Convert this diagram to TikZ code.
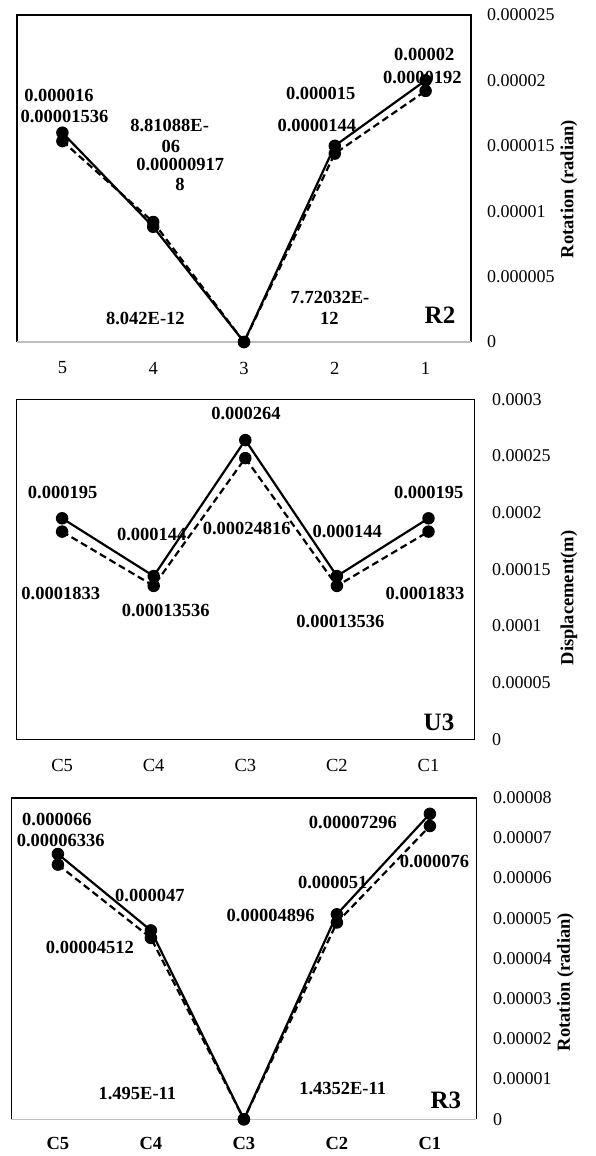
\documentclass[tikz,border=0pt]{standalone}
\usepackage{fontspec}
\setmainfont{Liberation Serif}
\begin{document}
\begin{tikzpicture}[x=1pt,y=-1pt,
  lab/.style={inner sep=0pt,font=\fontsize{18.5}{21}\selectfont\bfseries},
  tick/.style={inner sep=0pt,anchor=west,font=\fontsize{18}{21}\selectfont},
  cat/.style={inner sep=0pt,font=\fontsize{18.5}{21}\selectfont},
  catb/.style={inner sep=0pt,font=\fontsize{18.5}{21}\selectfont\bfseries},
  ttl/.style={inner sep=0pt,rotate=90,font=\fontsize{18.5}{21}\selectfont\bfseries},
  big/.style={inner sep=0pt,font=\fontsize{25}{29}\selectfont\bfseries},
  frame/.style={line width=1.6pt,black},
  gaxis/.style={line width=1.6pt,black!25},
  sline/.style={line width=2.2pt,line join=round},
  dline/.style={line width=2.2pt,dash pattern=on 7pt off 4pt},
  dot/.style={circle,fill=black,inner sep=0pt,minimum size=12.5pt}]
\useasboundingbox (0,0) rectangle (595,1156);
\fill[white] (0,0) rectangle (595,1156);

% ================= Chart 1 : R2 =================
\coordinate (f1a) at (17,342);
\coordinate (f1b) at (17,15);
\coordinate (f1c) at (471,15);
\coordinate (f1d) at (471,342);
\draw[frame] (f1a) -- (f1b) -- (f1c) -- (f1d);
\draw[gaxis] (f1a) -- (f1d);
\node[tick] (t1a) at (487,15) {0.000025};
\node[tick] (t1b) at (487,80.4) {0.00002};
\node[tick] (t1c) at (487,145.8) {0.000015};
\node[tick] (t1d) at (487,211.2) {0.00001};
\node[tick] (t1e) at (487,276.6) {0.000005};
\node[tick] (t1f) at (487,342) {0};
\node[ttl] (y1) at (569,189) {Rotation (radian)};
\node[cat] (c1a) at (62.4,368) {5};
\node[cat] (c1b) at (153.2,368) {4};
\node[cat] (c1c) at (244,368) {3};
\node[cat] (c1d) at (334.8,368) {2};
\node[cat] (c1e) at (425.6,368) {1};
\node[big] (R2) at (440,315) {R2};
\node[lab] (l1a) at (59,95) {0.000016};
\node[lab] (l1b) at (64.5,116) {0.00001536};
\node[lab] (l1c) at (169.6,125) {8.81088E-};
\node[lab] (l1d) at (170.8,146) {06};
\node[lab] (l1e) at (180.3,164) {0.00000917};
\node[lab] (l1f) at (180,184) {8};
\node[lab] (l1g) at (145.4,318) {8.042E-12};
\node[lab] (l1h) at (320.7,93) {0.000015};
\node[lab] (l1i) at (316.9,125) {0.0000144};
\node[lab] (l1j) at (330,297) {7.72032E-};
\node[lab] (l1k) at (329.4,318) {12};
\node[lab] (l1l) at (424.3,54) {0.00002};
\node[lab] (l1m) at (422.4,77) {0.0000192};
\coordinate (s1a) at (62.4,132.7);
\coordinate (s1b) at (153.2,226.8);
\coordinate (s1c) at (244,342);
\coordinate (s1d) at (334.8,145.8);
\coordinate (s1e) at (425.6,80.4);
\coordinate (d1a) at (62.4,141.1);
\coordinate (d1b) at (153.2,222);
\coordinate (d1c) at (244,342);
\coordinate (d1d) at (334.8,153.6);
\coordinate (d1e) at (425.6,90.9);
\draw[dline] (d1a) -- (d1b) -- (d1c) -- (d1d) -- (d1e);
\draw[sline] (s1a) -- (s1b) -- (s1c) -- (s1d) -- (s1e);
\foreach \p in {d1a,d1b,d1c,d1d,d1e,s1a,s1b,s1c,s1d,s1e}
  \node[dot] at (\p) {};

% ================= Chart 2 : U3 =================
\draw[frame] (16.3,399.3) rectangle (474.4,739.3);
\node[tick] (t2a) at (492,399.3) {0.0003};
\node[tick] (t2b) at (492,456) {0.00025};
\node[tick] (t2c) at (492,512.6) {0.0002};
\node[tick] (t2d) at (492,569.3) {0.00015};
\node[tick] (t2e) at (492,626) {0.0001};
\node[tick] (t2f) at (492,682.6) {0.00005};
\node[tick] (t2g) at (492,739.3) {0};
\node[ttl] (y2) at (569,598) {Displacement(m)};
\node[cat] (c2a) at (62.1,765) {C5};
\node[cat] (c2b) at (153.7,765) {C4};
\node[cat] (c2c) at (245.3,765) {C3};
\node[cat] (c2d) at (336.9,765) {C2};
\node[cat] (c2e) at (428.5,765) {C1};
\node[big] (U3) at (439,722) {U3};
\node[lab] (l2a) at (62.6,492) {0.000195};
\node[lab] (l2b) at (60.7,593) {0.0001833};
\node[lab] (l2c) at (151.8,534) {0.000144};
\node[lab] (l2d) at (165.8,610) {0.00013536};
\node[lab] (l2e) at (246,413) {0.000264};
\node[lab] (l2f) at (246.7,528) {0.00024816};
\node[lab] (l2g) at (347.2,531) {0.000144};
\node[lab] (l2h) at (340.4,621) {0.00013536};
\node[lab] (l2i) at (428.8,492) {0.000195};
\node[lab] (l2j) at (425,593) {0.0001833};
\coordinate (s2a) at (62.1,518.3);
\coordinate (s2b) at (153.7,576.1);
\coordinate (s2c) at (245.3,440.1);
\coordinate (s2d) at (336.9,576.1);
\coordinate (s2e) at (428.5,518.3);
\coordinate (d2a) at (62.1,531.6);
\coordinate (d2b) at (153.7,585.9);
\coordinate (d2c) at (245.3,458.1);
\coordinate (d2d) at (336.9,585.9);
\coordinate (d2e) at (428.5,531.6);
\draw[dline] (d2a) -- (d2b) -- (d2c) -- (d2d) -- (d2e);
\draw[sline] (s2a) -- (s2b) -- (s2c) -- (s2d) -- (s2e);
\foreach \p in {d2a,d2b,d2c,d2d,d2e,s2a,s2b,s2c,s2d,s2e}
  \node[dot] at (\p) {};

% ================= Chart 3 : R3 =================
\coordinate (f3a) at (11.4,1119.3);
\coordinate (f3b) at (11.4,797.7);
\coordinate (f3c) at (476.3,797.7);
\coordinate (f3d) at (476.3,1119.3);
\draw[frame] (f3a) -- (f3b) -- (f3c) -- (f3d);
\draw[gaxis] (f3a) -- (f3d);
\node[tick] (t3a) at (493,797.7) {0.00008};
\node[tick] (t3b) at (493,837.9) {0.00007};
\node[tick] (t3c) at (493,878.1) {0.00006};
\node[tick] (t3d) at (493,918.3) {0.00005};
\node[tick] (t3e) at (493,958.5) {0.00004};
\node[tick] (t3f) at (493,998.7) {0.00003};
\node[tick] (t3g) at (493,1038.9) {0.00002};
\node[tick] (t3h) at (493,1079.1) {0.00001};
\node[tick] (t3i) at (493,1119.3) {0};
\node[ttl] (y3) at (565.5,982) {Rotation (radian)};
\node[catb] (c3a) at (57.9,1143) {C5};
\node[catb] (c3b) at (150.9,1143) {C4};
\node[catb] (c3c) at (243.9,1143) {C3};
\node[catb] (c3d) at (336.9,1143) {C2};
\node[catb] (c3e) at (429.9,1143) {C1};
\node[big] (R3) at (445.9,1100) {R3};
\node[lab] (l3a) at (56.9,819.5) {0.000066};
\node[lab] (l3b) at (60.7,840) {0.00006336};
\node[lab] (l3c) at (149.9,895) {0.000047};
\node[lab] (l3d) at (89.9,947) {0.00004512};
\node[lab] (l3e) at (137.4,1093) {1.495E-11};
\node[lab] (l3f) at (270.6,915) {0.00004896};
\node[lab] (l3g) at (332.8,882) {0.000051};
\node[lab] (l3h) at (342.7,1088) {1.4352E-11};
\node[lab] (l3i) at (352.9,822) {0.00007296};
\node[lab] (l3j) at (434.5,861) {0.000076};
\coordinate (s3a) at (57.9,854);
\coordinate (s3b) at (150.9,930.4);
\coordinate (s3c) at (243.9,1119.3);
\coordinate (s3d) at (336.9,914.3);
\coordinate (s3e) at (429.9,813.8);
\coordinate (d3a) at (57.9,864.6);
\coordinate (d3b) at (150.9,937.9);
\coordinate (d3c) at (243.9,1119.3);
\coordinate (d3d) at (336.9,922.5);
\coordinate (d3e) at (429.9,826);
\draw[dline] (d3a) -- (d3b) -- (d3c) -- (d3d) -- (d3e);
\draw[sline] (s3a) -- (s3b) -- (s3c) -- (s3d) -- (s3e);
\foreach \p in {d3a,d3b,d3c,d3d,d3e,s3a,s3b,s3c,s3d,s3e}
  \node[dot] at (\p) {};
\end{tikzpicture}
\end{document}
